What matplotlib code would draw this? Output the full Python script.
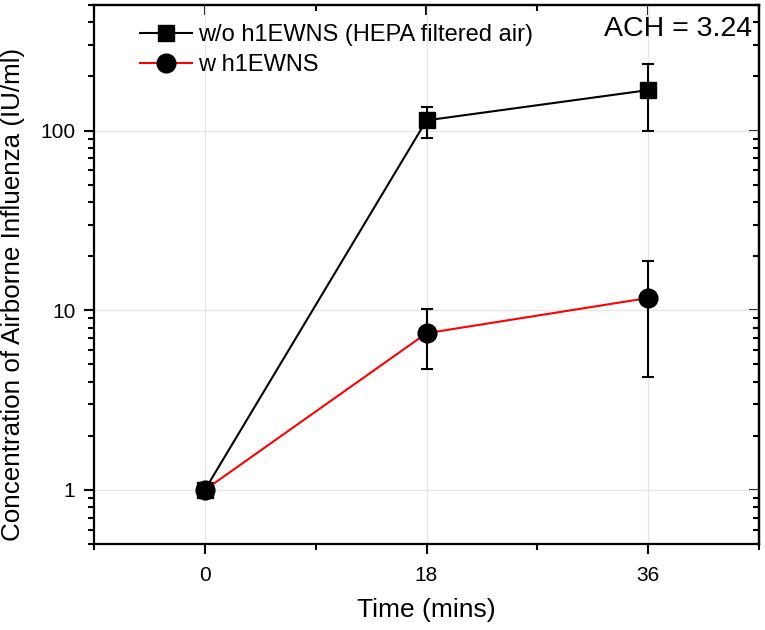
import matplotlib
matplotlib.use("Agg")
import matplotlib.pyplot as plt
from matplotlib.lines import Line2D
from matplotlib.ticker import LogLocator, FixedLocator, NullFormatter

plt.rcParams['font.family'] = ['Liberation Sans', 'DejaVu Sans']

time = [0, 18, 36]
without_vals = [1.0, 114.0, 168.0]
without_lo = [1.0, 91.5, 100.0]
without_hi = [1.0, 136.0, 236.0]
with_vals = [1.0, 7.45, 11.7]
with_lo = [1.0, 4.7, 4.25]
with_hi = [1.0, 10.1, 18.9]

label_without = "w/o h1EWNS (HEPA filtered air)"
label_with = "w h1EWNS"

fig = plt.figure(figsize=(7.65, 6.3), dpi=100)
ax = fig.add_axes([94/765, 1-544/630, (759-94)/765, (544-5)/630])

err_wo = [[v - l for v, l in zip(without_vals, without_lo)],
          [h - v for v, h in zip(without_vals, without_hi)]]
err_w = [[v - l for v, l in zip(with_vals, with_lo)],
         [h - v for v, h in zip(with_vals, with_hi)]]

ax.errorbar(time, without_vals, yerr=err_wo, color='black', lw=1.5,
            marker='s', ms=11, mfc='black', mec='black',
            ecolor='black', elinewidth=1.5, capsize=4.5, capthick=1.5,
            zorder=3)
ax.errorbar(time, with_vals, yerr=err_w, color='red', lw=1.5,
            marker='o', ms=13.5, mfc='black', mec='black',
            ecolor='black', elinewidth=1.5, capsize=4.5, capthick=1.5,
            zorder=3)

ax.set_yscale('log')
ax.set_ylim(0.5, 500)
ax.set_xlim(-9, 45)
ax.set_xticks([0, 18, 36])
ax.xaxis.set_minor_locator(FixedLocator([-9, 9, 27, 45]))
ax.yaxis.set_major_locator(FixedLocator([1, 10, 100]))
ax.set_yticklabels(['1', '10', '100'])
ax.yaxis.set_minor_locator(LogLocator(base=10, subs=range(2, 10)))
ax.yaxis.set_minor_formatter(NullFormatter())

ax.grid(True, which='major', color='#e6e6e6', lw=1.0, zorder=0)
for s in ax.spines.values():
    s.set_linewidth(1.6)

ax.tick_params(axis='both', which='major', labelsize=15, length=7.5, width=1.5, pad=6)
ax.tick_params(axis='both', which='minor', length=4, width=1.5)
ax.tick_params(axis='x', which='major', pad=8)
ax.tick_params(axis='x', which='both', top=False)
ax.tick_params(axis='y', which='both', right=False)

# inward ticks on top/right
axt = ax.secondary_xaxis('top')
axt.set_xticks([0, 18, 36])
axt.xaxis.set_minor_locator(FixedLocator([-9, 9, 27, 45]))
axt.tick_params(which='major', direction='in', length=7.5, width=1.5, labeltop=False)
axt.tick_params(which='minor', direction='in', length=4, width=1.5)
axt.spines['top'].set_linewidth(1.6)
axr = ax.secondary_yaxis('right')
axr.set_yticks([1, 10, 100])
axr.yaxis.set_minor_locator(LogLocator(base=10, subs=range(2, 10)))
axr.yaxis.set_minor_formatter(NullFormatter())
axr.tick_params(which='major', direction='in', length=7.5, width=1.5, labelright=False)
axr.tick_params(which='minor', direction='in', length=4, width=1.5)
axr.spines['right'].set_linewidth(1.6)

ax.set_xlabel('Time (mins)', fontsize=19, labelpad=10)
ax.set_ylabel('Concentration of Airborne Influenza (IU/ml)', fontsize=18.7)
ax.yaxis.set_label_coords((13-94)/665, 1-(294-5)/539)
ax.yaxis.label.set_va('center')

handles = [
    Line2D([], [], color='black', lw=1.5, marker='s', ms=11, mfc='black', mec='black'),
    Line2D([], [], color='red', lw=1.5, marker='o', ms=13.5, mfc='black', mec='black'),
]
leg = ax.legend(handles, [label_without, label_with], loc='upper left',
                bbox_to_anchor=((140-94)/665, 1-19/539),
                frameon=False, fontsize=17, borderpad=0, borderaxespad=0,
                handlelength=2.2, handletextpad=0.25, labelspacing=0.35)

ax.text((752-94)/665, 1-(36-5)/539, 'ACH = 3.24', transform=ax.transAxes,
        ha='right', va='baseline', fontsize=20.5)

fig.savefig('out.png', dpi=100)
